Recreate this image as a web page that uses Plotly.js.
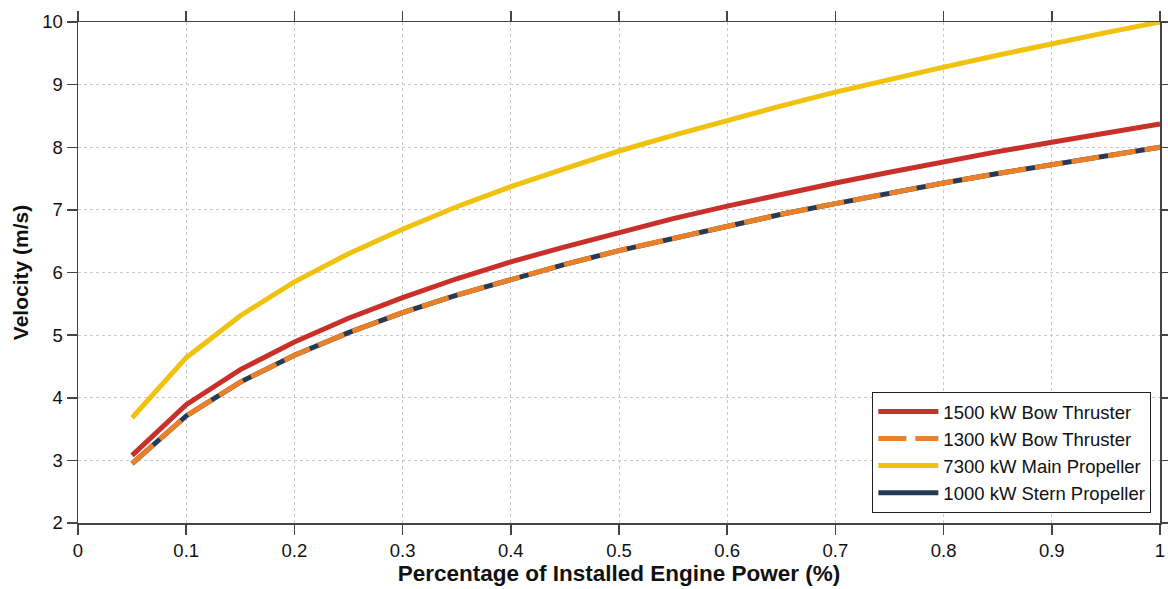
<!DOCTYPE html>
<html>
<head>
<meta charset="utf-8">
<script src="https://cdn.plot.ly/plotly-3.0.1.min.js"></script>
<style>html,body{margin:0;padding:0;background:#fff;}#chart{width:1168px;height:589px;}</style>
</head>
<body>
<div id="chart"></div>
<script>
const power = [0.05,0.10,0.15,0.20,0.25,0.30,0.35,0.40,0.45,0.50,0.55,0.60,0.65,0.70,0.75,0.80,0.85,0.90,0.95,1.00];
const bow1500 = [3.08,3.89,4.45,4.89,5.27,5.60,5.90,6.17,6.41,6.64,6.86,7.06,7.25,7.43,7.60,7.77,7.93,8.08,8.23,8.37];
const bow1300 = [2.95,3.71,4.25,4.68,5.04,5.36,5.64,5.89,6.13,6.35,6.55,6.75,6.93,7.10,7.27,7.43,7.58,7.72,7.86,8.00];
const main7300 = [3.68,4.64,5.31,5.85,6.30,6.69,7.05,7.37,7.66,7.94,8.19,8.43,8.66,8.88,9.09,9.28,9.47,9.66,9.83,10.00];
const stern1000 = [2.95,3.71,4.25,4.68,5.04,5.36,5.64,5.89,6.13,6.35,6.55,6.75,6.93,7.10,7.27,7.43,7.58,7.72,7.86,8.00];
const seriesNames = ["1500 kW Bow Thruster","1300 kW Bow Thruster","7300 kW Main Propeller","1000 kW Stern Propeller"];
const xTickVals = [0,0.1,0.2,0.3,0.4,0.5,0.6,0.7,0.8,0.9,1];
const yTickVals = [2,3,4,5,6,7,8,9,10];

const W = 5;
const traces = [
  {x: power, y: bow1500, name: seriesNames[0], mode: 'lines', line: {color: '#c9302a', width: W}, legendrank: 1},
  {x: power, y: main7300, name: seriesNames[2], mode: 'lines', line: {color: '#f0c20e', width: W}, legendrank: 3},
  {x: power, y: stern1000, name: seriesNames[3], mode: 'lines', line: {color: '#263a55', width: W}, legendrank: 4},
  {x: power, y: bow1300, name: seriesNames[1], mode: 'lines', line: {color: '#ea8128', width: W, dash: '28px,9px'}, legendrank: 2}
];

const axisCommon = {
  showline: true, linecolor: '#444', linewidth: 1.5, mirror: 'ticks',
  ticks: 'outside', ticklen: 10, tickwidth: 1.5, tickcolor: '#444',
  showgrid: true, gridcolor: '#c8c8c8', griddash: 'dot', gridwidth: 1,
  zeroline: false,
  tickfont: {family: 'Liberation Sans, Arial, sans-serif', size: 18.5, color: '#111'}
};

const layout = {
  width: 1168, height: 589,
  margin: {l: 78, r: 8, t: 22, b: 66},
  paper_bgcolor: '#fff', plot_bgcolor: '#fff',
  font: {family: 'Liberation Sans, Arial, sans-serif', color: '#111'},
  showlegend: true,
  legend: {
    x: 0.992, xanchor: 'right', y: 0.02, yanchor: 'bottom',
    bgcolor: '#fff', bordercolor: '#222', borderwidth: 1,
    font: {family: 'Liberation Sans, Arial, sans-serif', size: 18.5, color: '#111'},
    itemwidth: 60, tracegroupgap: 0
  },
  xaxis: Object.assign({}, axisCommon, {
    range: [0, 1], tickvals: xTickVals,
    title: {text: '<b>Percentage of Installed Engine Power (%)</b>', font: {size: 22.5, color: '#111'}, standoff: 3}
  }),
  yaxis: Object.assign({}, axisCommon, {
    range: [2, 10], tickvals: yTickVals,
    title: {text: '<b>Velocity (m/s)</b>', font: {size: 21, color: '#111'}, standoff: 8}
  })
};

Plotly.newPlot('chart', traces, layout, {displayModeBar: false, staticPlot: true});
</script>
</body>
</html>
